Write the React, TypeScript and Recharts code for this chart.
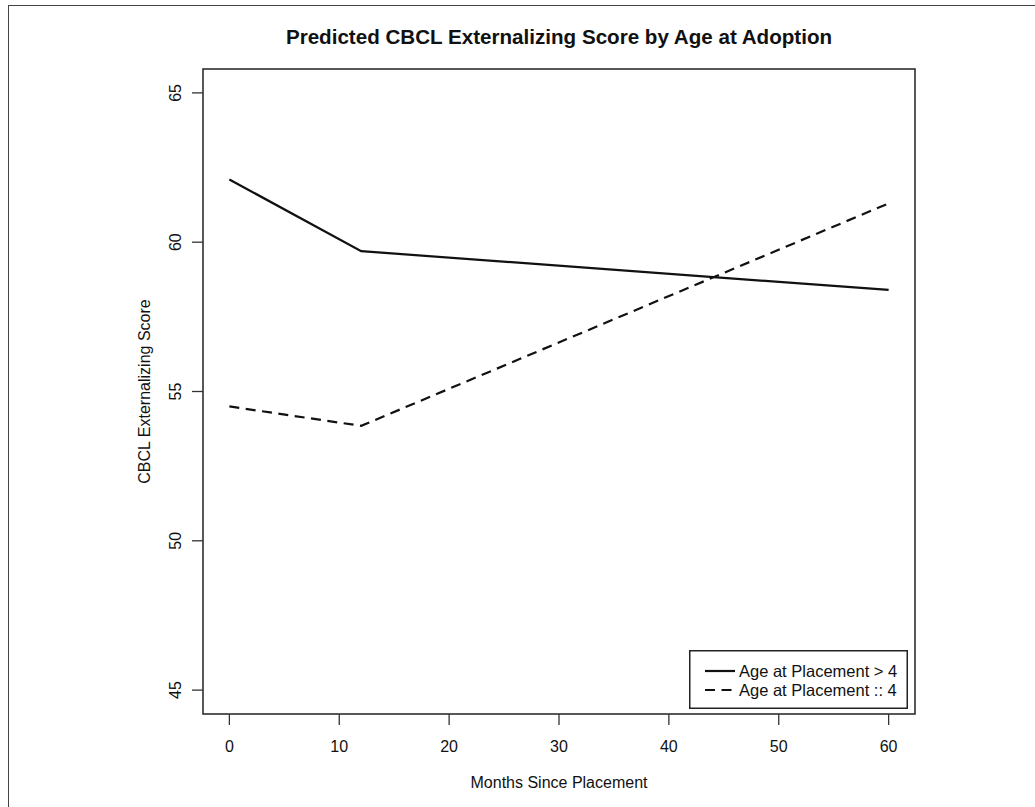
import React from "react";
import {
  LineChart,
  Line,
  XAxis,
  YAxis,
  Legend,
  ReferenceArea,
  Label,
  Customized,
} from "recharts";

const MONTHS = [0, 12, 60];
const ABOVE_4 = [62.1, 59.7, 58.4];
const AT_OR_BELOW_4 = [54.5, 53.85, 61.3];
const X_TICKS = [0, 10, 20, 30, 40, 50, 60];
const Y_TICKS = [45, 50, 55, 60, 65];
const SERIES_NAMES = ["Age at Placement > 4", "Age at Placement :: 4"];
const TITLE = "Predicted CBCL Externalizing Score by Age at Adoption";
const X_LABEL = "Months Since Placement";
const Y_LABEL = "CBCL Externalizing Score";
const X_DOMAIN = [-2.4, 62.4];
const Y_DOMAIN = [44.2, 65.8];

const data = MONTHS.map((m, i) => ({
  month: m,
  above: ABOVE_4[i],
  below: AT_OR_BELOW_4[i],
}));

const FONT = "'Liberation Sans', Arial, Helvetica, sans-serif";
const INK = "#111";

const YTick = (props: any) => {
  const { x, y, payload } = props;
  return (
    <text
      x={x}
      y={y}
      transform={`rotate(-90, ${x}, ${y})`}
      textAnchor="middle"
      fontSize={16}
      fontFamily={FONT}
      fill={INK}
    >
      {payload.value}
    </text>
  );
};

const XTick = (props: any) => {
  const { x, y, payload } = props;
  return (
    <text
      x={x}
      y={y + 27}
      textAnchor="middle"
      fontSize={16}
      fontFamily={FONT}
      fill={INK}
    >
      {payload.value}
    </text>
  );
};

const LegendBox = (props: any) => {
  const payload = [...(props.payload || [])].sort(
    (a: any, b: any) => SERIES_NAMES.indexOf(a.value) - SERIES_NAMES.indexOf(b.value)
  );
  return (
    <svg width={219} height={59} style={{ display: "block" }}>
      <rect x={0.75} y={0.75} width={217.5} height={57.5} fill="#fff" stroke="#222" strokeWidth={1.5} />
      {payload.map((entry: any, i: number) => {
        const cy = 21 + i * 19;
        const dash = entry?.payload?.strokeDasharray;
        return (
          <g key={i}>
            <line x1={16} x2={46} y1={cy} y2={cy} stroke={INK} strokeWidth={2.2} strokeDasharray={dash} />
            <text x={50} y={cy + 5.5} fontSize={16.5} fontFamily={FONT} fill={INK}>
              {entry.value}
            </text>
          </g>
        );
      })}
    </svg>
  );
};

const Title = () => (
  <text
    x={559}
    y={44}
    textAnchor="middle"
    fontSize={20.6}
    fontWeight="bold"
    fontFamily={FONT}
    fill={INK}
  >
    {TITLE}
  </text>
);

export default function App() {
  return (
    <div style={{ position: "absolute", left: 0, top: 0, width: 1035, height: 807, background: "#fff" }}>
      <div
        style={{
          position: "absolute",
          left: 8,
          top: 5,
          width: 1100,
          height: 900,
          borderLeft: "1.5px solid #444",
          borderTop: "1.5px solid #444",
          boxSizing: "border-box",
        }}
      />
      <div style={{ position: "absolute", left: 0, top: 0 }}>
        <LineChart
          width={1035}
          height={807}
          data={data}
          margin={{ top: 69, right: 120, bottom: 0, left: 0 }}
        >
          <XAxis
            dataKey="month"
            type="number"
            domain={X_DOMAIN}
            ticks={X_TICKS}
            allowDataOverflow
            height={93}
            axisLine={false}
            tickLine={{ stroke: "#333", strokeWidth: 1.3 }}
            tickSize={11}
            tickMargin={0}
            tick={<XTick />}
            interval={0}
          >
            <Label
              content={(p: any) => {
                const vb = p.viewBox || {};
                return (
                  <text
                    x={vb.x + vb.width / 2}
                    y={788}
                    textAnchor="middle"
                    fontSize={16}
                    fontFamily={FONT}
                    fill={INK}
                  >
                    {X_LABEL}
                  </text>
                );
              }}
            />
          </XAxis>
          <YAxis
            type="number"
            domain={Y_DOMAIN}
            ticks={Y_TICKS}
            allowDataOverflow
            width={203}
            axisLine={false}
            tickLine={{ stroke: "#333", strokeWidth: 1.3 }}
            tickSize={11}
            tickMargin={11}
            tick={<YTick />}
            interval={0}
          >
            <Label
              content={(p: any) => {
                const vb = p.viewBox || {};
                const cy = vb.y + vb.height / 2;
                return (
                  <text
                    x={150}
                    y={cy}
                    transform={`rotate(-90, 150, ${cy})`}
                    textAnchor="middle"
                    fontSize={16}
                    fontFamily={FONT}
                    fill={INK}
                  >
                    {Y_LABEL}
                  </text>
                );
              }}
            />
          </YAxis>
          <ReferenceArea
            x1={X_DOMAIN[0]}
            x2={X_DOMAIN[1]}
            y1={Y_DOMAIN[0]}
            y2={Y_DOMAIN[1]}
            fill="none"
            fillOpacity={0}
            stroke="#222"
            strokeWidth={1.5}
            ifOverflow="visible"
          />
          <Line
            type="linear"
            dataKey="above"
            name={SERIES_NAMES[0]}
            stroke={INK}
            strokeWidth={2.2}
            dot={false}
            activeDot={false}
            isAnimationActive={false}
          />
          <Line
            type="linear"
            dataKey="below"
            name={SERIES_NAMES[1]}
            stroke={INK}
            strokeWidth={2.2}
            strokeDasharray="10 6.5"
            dot={false}
            activeDot={false}
            isAnimationActive={false}
          />
          <Legend
            layout="horizontal"
            verticalAlign="middle"
            align="center"
            content={<LegendBox />}
            wrapperStyle={{ left: 689, top: 650, width: 219, height: 59 }}
          />
          <Customized component={Title} />
        </LineChart>
      </div>
    </div>
  );
}
